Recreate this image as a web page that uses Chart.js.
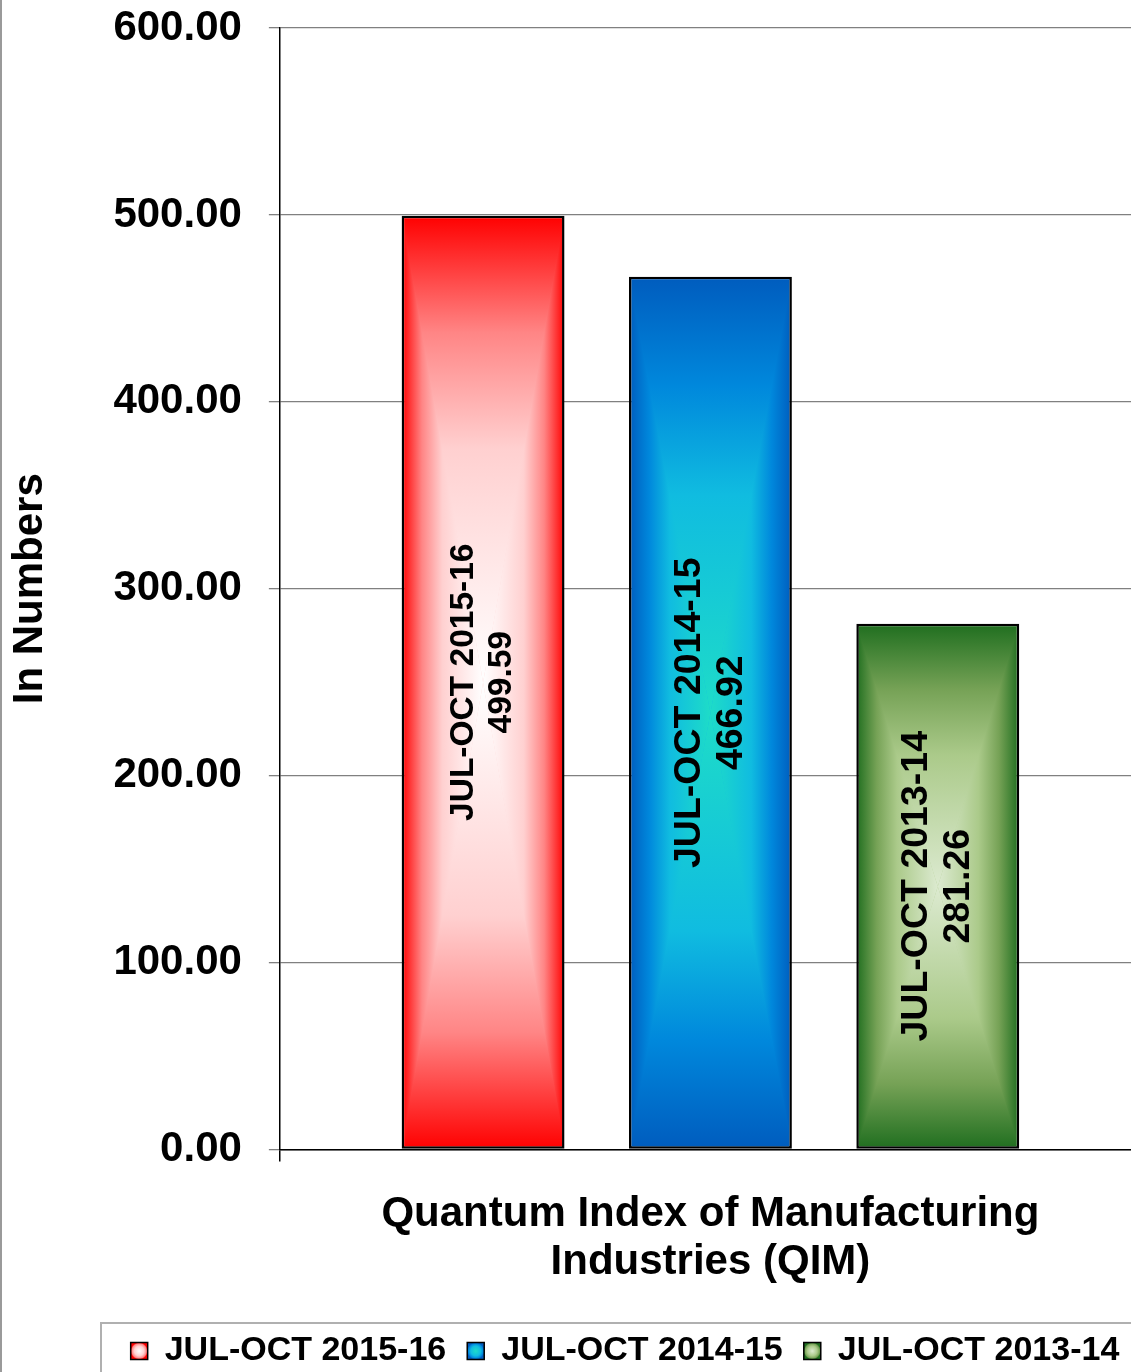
<!DOCTYPE html>
<html>
<head>
<meta charset="utf-8">
<script src="https://cdn.jsdelivr.net/npm/chart.js@4.4.1/dist/chart.umd.min.js"></script>
<style>
  html, body { margin: 0; padding: 0; background: #fff; overflow: hidden; }
  #wrap { width: 1146px; height: 1378px; }
</style>
</head>
<body>
<div id="wrap"><canvas id="c" width="1146" height="1378"></canvas></div>
<script>
// ---- data ----
const CATEGORIES = [['Quantum Index of Manufacturing', 'Industries (QIM)']];
const SERIES_LABELS = ['JUL-OCT 2015-16', 'JUL-OCT 2014-15', 'JUL-OCT 2013-14'];
const SERIES_2015_16 = [499.59];
const SERIES_2014_15 = [466.92];
const SERIES_2013_14 = [281.26];
const Y_MIN = 0, Y_MAX = 600, Y_STEP = 100;
const Y_TITLE = 'In Numbers';

// ---- styles ----
const FONT = '"Liberation Sans", Arial, Helvetica, sans-serif';
const CAT_PCT = 0.792, BAR_PCT = 0.7165;
const LABEL_FONT_SIZES = [33.5, 37.5, 37.5];
const LABEL_LINE_OFFSETS = [19, 21, 21];
// gradient stops: [t (0 = centre, 1 = edge), colour]
const FILLS = [
  [[0, '#ffffff'], [0.5, '#ffd0d0'], [0.75, '#ff8585'], [1, '#ff0000']],
  [[0, '#1edcc8'], [0.5, '#10bce0'], [0.75, '#0088dc'], [1, '#005cbe']],
  [[0, '#dcead0'], [0.5, '#abca8a'], [0.75, '#76a256'], [1, '#1f6e1f']]
];

function fin() { for (const a of arguments) if (!Number.isFinite(a)) return false; return true; }

function rectGradient(g, L, T, W, H, stops) {
  const cx = L + W / 2, cy = T + H / 2;
  g.fillStyle = stops[1][1];
  g.fillRect(L, T, W, H);
  const tris = [
    [[L - 1, T], [L + W + 1, T], [cx, T]],
    [[L + W, T - 1], [L + W, T + H + 1], [L + W, cy]],
    [[L + W + 1, T + H], [L - 1, T + H], [cx, T + H]],
    [[L, T + H + 1], [L, T - 1], [L, cy]]
  ];
  tris.forEach(([a, b, e]) => {
    const gr = g.createLinearGradient(e[0], e[1], cx, cy);
    stops.forEach(([t, col]) => gr.addColorStop(1 - t, col));
    g.fillStyle = gr;
    g.beginPath();
    g.moveTo(a[0], a[1]);
    g.lineTo(b[0], b[1]);
    g.lineTo(cx, cy);
    g.closePath();
    g.fill();
  });
}

const patternCache = {};
function barFill(c) {
  const stops = FILLS[c.datasetIndex % FILLS.length];
  const solid = stops[2][1];
  const chart = c.chart;
  const xs = chart.scales && chart.scales.x, ys = chart.scales && chart.scales.y;
  if (!xs || !ys || c.type !== 'data' || c.raw == null) return solid;
  const n = chart.data.datasets.length;
  const size = xs.width * CAT_PCT;
  const chunk = size / n;
  const center = xs.getPixelForValue(c.dataIndex) - size / 2 + chunk * c.datasetIndex + chunk / 2;
  const w = chunk * BAR_PCT;
  const top = ys.getPixelForValue(c.raw), base = ys.getPixelForValue(0);
  if (!fin(center, w, top, base) || w <= 1 || base - top <= 1 || !(chart.width > 0) || !(chart.height > 0)) return solid;
  const key = [c.datasetIndex, c.dataIndex, center.toFixed(1), top.toFixed(1), base.toFixed(1), chart.width, chart.height].join('|');
  if (patternCache[key]) return patternCache[key];
  const off = document.createElement('canvas');
  off.width = chart.width; off.height = chart.height;
  const g = off.getContext('2d');
  rectGradient(g, center - w / 2, top, w, base - top, stops);
  const p = chart.ctx.createPattern(off, 'no-repeat');
  patternCache[key] = p;
  return p;
}

const decorPlugin = {
  id: 'decor',
  afterLayout(chart) {
    if (chart.legend) chart.legend.left = 109;
  },
  beforeDraw(chart) {
    const lg = chart.legend;
    if (!lg || !lg.legendItems || !lg.legendHitBoxes) return;
    const ctx = chart.ctx;
    lg.legendItems.forEach((it, i) => {
      const hb = lg.legendHitBoxes[i];
      if (!hb || !fin(hb.left, hb.top)) return;
      const bx = hb.left + 8.5, by = hb.top + 8.5 + 8.5;
      const stops = FILLS[i % FILLS.length];
      const gr = ctx.createRadialGradient(bx, by, 0, bx, by, 8.5);
      stops.forEach(([t, col]) => gr.addColorStop(Math.min(1, t * 1.15), col));
      it.fillStyle = gr;
    });
  },
  afterDatasetsDraw(chart) {
    const ctx = chart.ctx;
    chart.data.datasets.forEach((ds, i) => {
      const meta = chart.getDatasetMeta(i);
      meta.data.forEach((bar, j) => {
        const v = ds.data[j];
        if (v == null) return;
        const cx = bar.x, cy = (bar.y + bar.base) / 2;
        const off = LABEL_LINE_OFFSETS[i % LABEL_LINE_OFFSETS.length];
        ctx.save();
        ctx.translate(cx, cy);
        ctx.rotate(-Math.PI / 2);
        ctx.font = 'bold ' + LABEL_FONT_SIZES[i % LABEL_FONT_SIZES.length] + 'px ' + FONT;
        ctx.fillStyle = '#000';
        ctx.textAlign = 'center';
        ctx.textBaseline = 'middle';
        ctx.fillText(ds.label, 0, -off);
        ctx.fillText(v.toFixed(2), 0, off);
        ctx.restore();
      });
    });
  },
  afterDraw(chart) {
    const ctx = chart.ctx;
    ctx.save();
    ctx.fillStyle = '#9a9a9a';
    ctx.fillRect(0, 0, 2, chart.height);
    ctx.strokeStyle = '#b0b0b0';
    ctx.lineWidth = 2;
    ctx.strokeRect(101, 1323, 1200, 200);
    ctx.restore();
  }
};

Chart.defaults.font.family = FONT;
Chart.defaults.color = '#000';

const values = [SERIES_2015_16, SERIES_2014_15, SERIES_2013_14];

new Chart(document.getElementById('c'), {
  type: 'bar',
  data: {
    labels: CATEGORIES,
    datasets: SERIES_LABELS.map((lab, i) => ({
      label: lab,
      data: values[i],
      backgroundColor: barFill,
      borderColor: '#000',
      borderWidth: 2.5,
      borderSkipped: false,
      categoryPercentage: CAT_PCT,
      barPercentage: BAR_PCT
    }))
  },
  options: {
    responsive: false,
    animation: false,
    events: [],
    layout: { padding: { top: 0, right: 5, left: 0, bottom: 0 } },
    scales: {
      x: {
        offset: true,
        grid: { drawOnChartArea: false, drawTicks: true, tickLength: 12, color: '#000', lineWidth: 1.5 },
        border: { display: true, color: '#000', width: 1.5 },
        ticks: {
          font: { size: 42, weight: 'bold', lineHeight: 1.15 },
          color: '#000',
          padding: 29,
          maxRotation: 0,
          autoSkip: false
        },
        afterFit(s) { s.height -= 3; }
      },
      y: {
        min: Y_MIN, max: Y_MAX,
        grid: { color: '#808080', lineWidth: 1.3, tickLength: 11, drawTicks: true },
        border: { display: true, color: '#000', width: 1.5 },
        ticks: {
          stepSize: Y_STEP,
          font: { size: 42, weight: 'bold', lineHeight: 0.05 },
          color: '#000',
          padding: 27,
          callback: v => Number(v).toFixed(2)
        },
        title: {
          display: true,
          text: Y_TITLE,
          font: { size: 42, weight: 'bold' },
          color: '#000',
          padding: { top: 5, bottom: 31 }
        }
      }
    },
    plugins: {
      tooltip: { enabled: false },
      legend: {
        position: 'bottom',
        labels: {
          font: { size: 34, weight: 'bold' },
          color: '#000',
          boxWidth: 17,
          boxHeight: 17,
          padding: 21,
          generateLabels(chart) {
            const items = Chart.defaults.plugins.legend.labels.generateLabels(chart);
            items.forEach((it, i) => {
              it.fillStyle = FILLS[i % FILLS.length][2][1];
              it.strokeStyle = '#000';
              it.lineWidth = 1.5;
            });
            return items;
          }
        }
      }
    }
  },
  plugins: [decorPlugin]
});
</script>
</body>
</html>
